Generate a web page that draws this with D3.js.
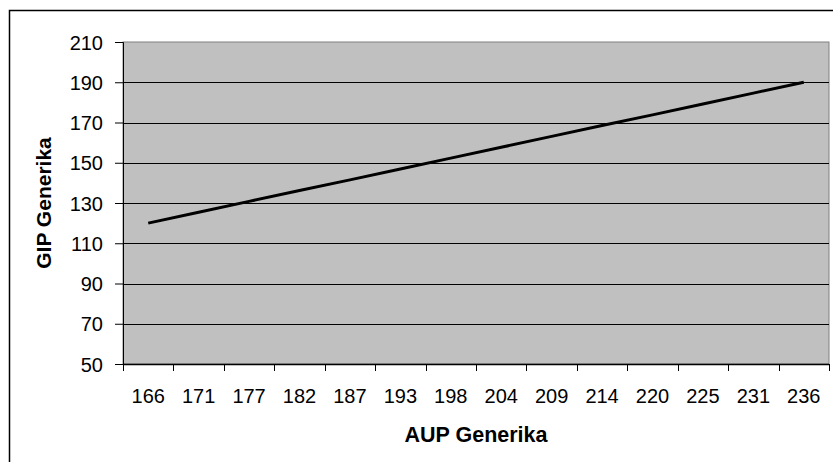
<!DOCTYPE html>
<html>
<head>
<meta charset="utf-8">
<script src="https://cdn.jsdelivr.net/npm/d3@7"></script>
<style>
  html, body { margin: 0; padding: 0; background: #fff; }
  svg { display: block; }
  text { font-family: "Liberation Sans", Arial, sans-serif; fill: #000; }
</style>
</head>
<body>
<svg id="chart" width="833" height="462"></svg>
<script>
// AUP (categories on the x axis) and matching GIP values
const aupLabels = ["166", "171", "177", "182", "187", "193", "198", "204", "209", "214", "220", "225", "231", "236"];
const gipValues = [120, 125.4, 130.8, 136.2, 141.5, 146.9, 152.3, 157.7, 163.1, 168.5, 173.8, 179.2, 184.6, 190];
const yTicks = [50, 70, 90, 110, 130, 150, 170, 190, 210];
const xTitle = "AUP Generika";
const yTitle = "GIP Generika";

const svg = d3.select("#chart");
const plot = { left: 123, right: 829, top: 42, bottom: 364 };

// outer chart frame (continues past the right and bottom edges)
svg.append("rect")
  .attr("x", 9.5).attr("y", 10.5)
  .attr("width", 840).attr("height", 470)
  .attr("fill", "none").attr("stroke", "#000").attr("stroke-width", 1.5);

const x = d3.scaleBand().domain(aupLabels).range([plot.left, plot.right]).padding(0);
const y = d3.scaleLinear().domain([50, 210]).range([plot.bottom, plot.top]);

// plot area
svg.append("rect")
  .attr("x", plot.left).attr("y", plot.top)
  .attr("width", plot.right - plot.left).attr("height", plot.bottom - plot.top)
  .attr("fill", "#c0c0c0").attr("stroke", "#808080").attr("stroke-width", 1);

// horizontal gridlines
svg.append("g").selectAll("line")
  .data(yTicks.filter(v => v !== 50 && v !== 210))
  .join("line")
  .attr("x1", plot.left).attr("x2", plot.right)
  .attr("y1", d => Math.round(y(d)) + 0.5).attr("y2", d => Math.round(y(d)) + 0.5)
  .attr("stroke", "#000").attr("stroke-width", 1);

// y axis
const yAxis = d3.axisLeft(y).tickValues(yTicks).tickSize(8).tickPadding(12).tickFormat(d3.format("d"));
const gy = svg.append("g").attr("transform", `translate(${plot.left},0)`).call(yAxis);
gy.select(".domain").attr("stroke", "#000");
gy.selectAll(".tick line").attr("stroke", "#000");
gy.selectAll(".tick text").style("font-size", "20px").attr("dy", "0.35em");

// x axis with ticks on category boundaries
const bounds = aupLabels.map(d => x(d)).concat([plot.right]);
const gx = svg.append("g");
gx.append("line")
  .attr("x1", plot.left).attr("x2", plot.right)
  .attr("y1", plot.bottom + 0.5).attr("y2", plot.bottom + 0.5)
  .attr("stroke", "#000").attr("stroke-width", 1.5);
gx.selectAll("line.tk").data(bounds).join("line").attr("class", "tk")
  .attr("x1", d => Math.round(d) + 0.5).attr("x2", d => Math.round(d) + 0.5)
  .attr("y1", plot.bottom).attr("y2", plot.bottom + 7)
  .attr("stroke", "#000").attr("stroke-width", 1);
gx.selectAll("text").data(aupLabels).join("text")
  .attr("x", d => x(d) + x.bandwidth() / 2)
  .attr("y", 403)
  .attr("text-anchor", "middle")
  .style("font-size", "20px")
  .text(d => d);

// data line
const line = d3.line()
  .x((d, i) => x(aupLabels[i]) + x.bandwidth() / 2)
  .y(d => y(d));
svg.append("path")
  .datum(gipValues)
  .attr("d", line)
  .attr("fill", "none")
  .attr("stroke", "#000")
  .attr("stroke-width", 3);

// axis titles
svg.append("text")
  .attr("x", (plot.left + plot.right) / 2).attr("y", 442)
  .attr("text-anchor", "middle")
  .style("font-size", "21.5px").style("font-weight", "bold")
  .text(xTitle);
svg.append("text")
  .attr("transform", `translate(51,${(plot.top + plot.bottom) / 2}) rotate(-90)`)
  .attr("text-anchor", "middle")
  .style("font-size", "21px").style("font-weight", "bold")
  .text(yTitle);
</script>
</body>
</html>
